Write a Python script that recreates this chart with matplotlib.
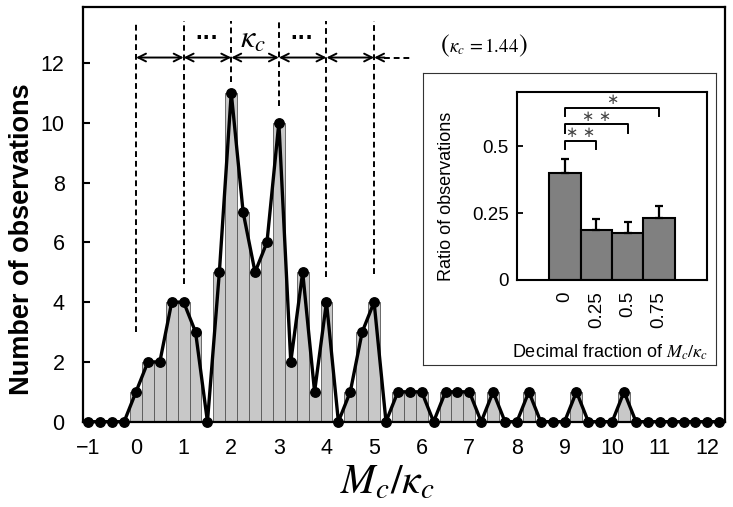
import matplotlib
matplotlib.use('Agg')
import matplotlib.pyplot as plt
import numpy as np

plt.rcParams['font.family'] = ['Liberation Sans', 'DejaVu Sans']
plt.rcParams['mathtext.fontset'] = 'stix'

# ---------------- data ----------------
# histogram bins of M_c/kappa_c (bin width 0.25, from -1 to 12.25)
bin_centers = np.arange(-1.0, 12.26, 0.25)
counts = [0, 0, 0, 0,
          1, 2, 2, 4,
          4, 3, 0, 5,
          11, 7, 5, 6,
          10, 2, 5, 1,
          4, 0, 1, 3,
          4, 0, 1, 1,
          1, 0, 1, 1,
          1, 0, 1, 0,
          0, 1, 0, 0,
          0, 1, 0, 0,
          0, 1, 0, 0,
          0, 0, 0, 0,
          0, 0]
x_ticks = list(range(-1, 13))
y_ticks = list(range(0, 13, 2))

# dashed guide lines at integer multiples
guide_x = [0, 1, 2, 3, 4, 5]
guide_bottom = [3.0, 4.6, 11.35, 10.55, 4.85, 4.95]
guide_top = 13.4
arrow_y = 12.18

# inset
fraction_labels = ['0', '0.25', '0.5', '0.75']
ratio_values = [0.40, 0.187, 0.175, 0.233]
ratio_errors = [0.05, 0.042, 0.041, 0.044]
inset_yticks = [0, 0.25, 0.5]
inset_yticklabels = ['0', '0.25', '0.5']
# significance brackets: (end index, bracket height, label)
brackets = [(1, 0.519, '\u2217 \u2217'), (2, 0.581, '\u2217 \u2217'), (3, 0.643, '\u2217')]
bracket_drop = 0.031

# ---------------- figure ----------------
fig = plt.figure(figsize=(7.33, 5.07), dpi=100)
ax = fig.add_axes([82.7 / 733, (507 - 421.7) / 507, 642.3 / 733, 414.4 / 507])

ax.bar(bin_centers, counts, width=0.25, color='#c8c8c8', edgecolor='#555555',
       linewidth=0.6, zorder=2)
ax.plot(bin_centers, counts, color='black', lw=2.4, marker='o', ms=6.8,
        zorder=3, clip_on=False)

ax.set_xlim(-1.12, 12.37)
ax.set_ylim(0, 13.86)
ax.set_xticks(x_ticks)
ax.set_yticks(y_ticks)
ax.tick_params(axis='y', direction='in', length=5, width=1.5, labelsize=15.5, pad=13)
ax.tick_params(axis='x', length=0, labelsize=15.5, pad=12)
for s in ax.spines.values():
    s.set_linewidth(1.6)

fig.text(22 / 733, 1 - 239 / 507, 'Number of observations', rotation=90,
         ha='center', va='center', fontsize=19.5, fontweight='bold')
fig.text(387 / 733, 1 - 482 / 507, r'$M_c/\kappa_c$', ha='center', va='center',
         fontsize=30)

# guide lines and arrows
for gx, gb in zip(guide_x, guide_bottom):
    ax.plot([gx, gx], [gb, guide_top], color='black', lw=1.4, ls=(0, (3, 2)), zorder=4)
for a, b in zip(guide_x[:-1], guide_x[1:]):
    ax.annotate('', xy=(b, arrow_y), xytext=(a, arrow_y),
                arrowprops=dict(arrowstyle='<->', lw=1.4, color='black',
                                shrinkA=0, shrinkB=0, mutation_scale=14))
ax.plot([5.2, 5.75], [arrow_y, arrow_y], color='black', lw=1.4, ls=(0, (3, 2)))
ax.annotate('', xy=(5, arrow_y), xytext=(5.22, arrow_y),
            arrowprops=dict(arrowstyle='->', lw=1.4, color='black',
                            shrinkA=0, shrinkB=0, mutation_scale=14))
ax.text(1.5, 12.8, '···', ha='center', va='center', fontsize=17, fontweight='bold')
ax.text(3.5, 12.8, '···', ha='center', va='center', fontsize=17, fontweight='bold')
ax.text(2.45, 12.78, r'$\kappa_c$', ha='center', va='center', fontsize=23)
ax.text(7.3, 12.54, r'$\kappa_c\,=1.44$', ha='center', va='center', fontsize=13.5)
ax.text(6.5, 12.54, '(', ha='center', va='center', fontsize=19, family='STIXGeneral')
ax.text(8.12, 12.54, ')', ha='center', va='center', fontsize=19, family='STIXGeneral')

# inset outer box
box = fig.add_axes([423 / 733, (507 - 365) / 507, 293 / 733, 292.3 / 507])
box.set_xticks([])
box.set_yticks([])
for s in box.spines.values():
    s.set_linewidth(0.8)
    s.set_color('#333333')

# inset inner axes
ax2 = fig.add_axes([517 / 733, (507 - 280) / 507, 190 / 733, 188.3 / 507])
pos = np.arange(len(fraction_labels))
ax2.bar(pos, ratio_values, width=1.0, color='#808080', edgecolor='black', lw=1.5,
        zorder=2)
ax2.errorbar(pos, ratio_values, yerr=[[0] * len(pos), ratio_errors], fmt='none',
             ecolor='black', elinewidth=1.6, capsize=3, capthick=1.6, zorder=3)
ax2.set_xlim(-1.52, 4.52)
ax2.set_ylim(0, 0.703)
ax2.set_yticks(inset_yticks)
ax2.set_yticklabels(inset_yticklabels)
ax2.set_xticks(pos)
ax2.set_xticklabels(fraction_labels, rotation=90)
ax2.tick_params(axis='y', direction='in', length=4, width=1.3, labelsize=13.5, pad=6)
ax2.tick_params(axis='x', length=0, labelsize=13.5, pad=8)
for s in ax2.spines.values():
    s.set_linewidth(1.5)

for end, h, lab in brackets:
    ax2.plot([0, 0, end, end], [h - bracket_drop, h, h, h - bracket_drop],
             color='black', lw=1.4, zorder=4)
    ax2.text(end / 2, h + 0.003, lab, ha='center', va='bottom', fontsize=10.5,
             family='DejaVu Sans', color='#444444')

fig.text(446.7 / 733, 1 - 196 / 507, 'Ratio of observations', rotation=90,
         ha='center', va='center', fontsize=13)
fig.text(610 / 733, 1 - 352 / 507, r'Decimal fraction of $M_c/\kappa_c$',
         ha='center', va='center', fontsize=13)

fig.savefig('out.png', dpi=100)
